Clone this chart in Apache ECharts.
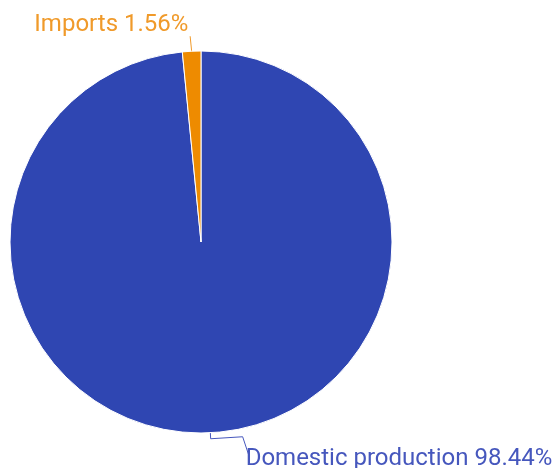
<!DOCTYPE html>
<html>
<head>
<meta charset="utf-8">
<script src="https://cdn.jsdelivr.net/npm/echarts@6/dist/echarts.min.js"></script>
<style>
  html, body { margin: 0; padding: 0; background: #ffffff; }
  #chart { width: 554px; height: 468px; }
</style>
</head>
<body>
<div id="chart"></div>
<script>
// Share of supply by source, in percent
const sources = ['Domestic production', 'Imports'];
const shares = [98.44, 1.56];
const sliceColors = ['#2f46b2', '#ee8b00'];
const labelColors = ['#4657bd', '#f09a2a'];

const chart = echarts.init(document.getElementById('chart'), null, { renderer: 'canvas' });

chart.setOption({
  animation: false,
  series: [{
    type: 'pie',
    center: [201, 242],
    radius: 191,
    startAngle: 90,
    clockwise: true,
    avoidLabelOverlap: false,
    itemStyle: { borderColor: '#ffffff', borderWidth: 1 },
    label: {
      show: true,
      position: 'outside',
      fontFamily: 'Roboto',
      fontSize: 24,
      formatter: p => p.name + ' ' + p.value.toFixed(2) + '%'
    },
    labelLine: { show: true, length: 6, length2: 30, lineStyle: { width: 1 } },
    // move the labels off the rim and run the guide line on to the moved text
    labelLayout: function (p) {
      const r = p.labelRect;
      const pts = p.labelLinePoints;
      if (p.dataIndex === 0) {
        const dy = 20;
        return {
          dy: dy,
          labelLinePoints: [pts[0], pts[1], [pts[2][0] + 2, pts[2][1] - 2], [r.x + 3, r.y + dy + 8]]
        };
      }
      const dx = 32, dy = -20;
      return {
        dx: dx,
        dy: dy,
        labelLinePoints: [pts[0], [pts[0][0] - 1.5, r.y + dy + r.height - 1]]
      };
    },
    data: sources.map((name, i) => ({
      name,
      value: shares[i],
      itemStyle: { color: sliceColors[i] },
      label: { color: labelColors[i] },
      labelLine: { lineStyle: { color: labelColors[i] } }
    }))
  }]
});
</script>
</body>
</html>
